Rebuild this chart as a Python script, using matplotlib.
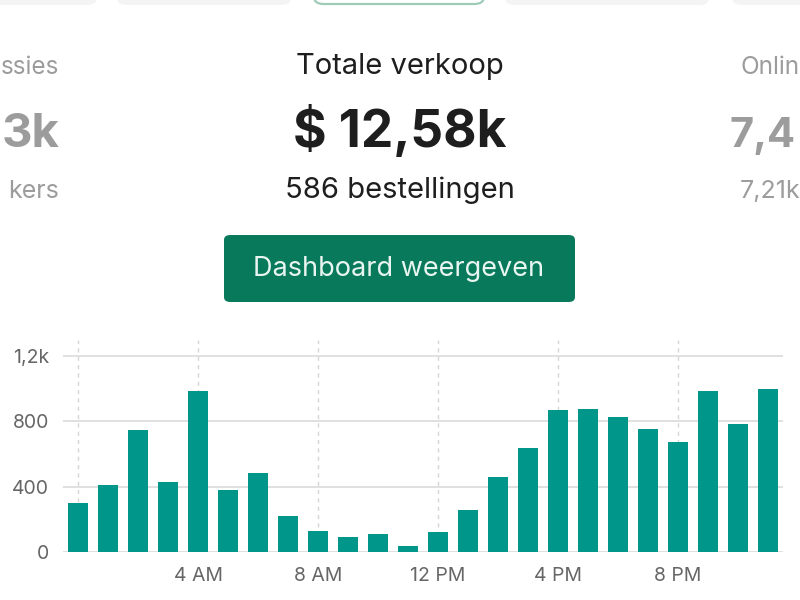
import matplotlib
matplotlib.use("Agg")
import matplotlib.pyplot as plt
from matplotlib.patches import FancyBboxPatch
from matplotlib.ticker import FixedLocator

plt.rcParams['font.family'] = ['Inter', 'DejaVu Sans']

# Hourly sales (USD) for the day
hours = list(range(24))
sales = [300, 410, 750, 428, 984, 377, 481, 220, 130, 90, 110, 39,
         120, 259, 462, 634, 872, 878, 825, 752, 674, 988, 784, 998]

x_tick_hours = [4, 8, 12, 16, 20]
x_tick_labels = ["4 AM", "8 AM", "12 PM", "4 PM", "8 PM"]
grid_hours = [0, 4, 8, 12, 16, 20]
y_ticks = [0, 400, 800, 1200]
y_tick_labels = ["0", "400", "800", "1,2k"]

title = "Totale verkoop"
total = "$ 12,58k"
orders = "586 bestellingen"
button_text = "Dashboard weergeven"

# Edges of the neighbouring cards that peek in from the sides
left_card = ["ssies", "3k", "kers"]
right_card = ["Onlin", "7,4", "7,21k"]

W, H = 800, 600
fig = plt.figure(figsize=(W / 100, H / 100), dpi=100)
fig.patch.set_facecolor("white")


def fx(px):
    return px / W


def fy(py):
    return 1 - py / H


# Faint tab pills along the top edge
tabs = [(-20, 97), (117, 291), (505, 709), (732, 830)]
for x0, x1 in tabs:
    fig.add_artist(FancyBboxPatch((fx(x0), fy(5)), fx(x1 - x0), 0.04,
                                  boxstyle="round,pad=0,rounding_size=0.012",
                                  transform=fig.transFigure, facecolor="#f4f4f4",
                                  edgecolor="none", zorder=1))
fig.add_artist(FancyBboxPatch((fx(314), fy(4)), fx(484 - 314), 0.04,
                              boxstyle="round,pad=0,rounding_size=0.012",
                              transform=fig.transFigure, facecolor="white",
                              edgecolor="#9fcbb9", linewidth=1.6, zorder=2))

# Central headline block
dark = "#1e1e1e"
sizes = [21, 37, 21]
baselines = [74, 147, 198]
weights = ["normal", "bold", "normal"]
for txt, fs, yb, wt in zip([title, total, orders], sizes, baselines, weights):
    fig.text(fx(400), fy(yb), txt, ha="center", va="baseline", fontsize=fs,
             fontweight=wt, color=dark)

# Neighbouring cards, partially visible
grey = "#9c9c9c"
left_sizes = [17.5, 34, 18]
for txt, fs, yb, wt in zip(left_card, left_sizes, baselines, weights):
    fig.text(fx(59), fy(yb), txt, ha="right", va="baseline", fontsize=fs,
             fontweight=wt, color=grey)

right_sizes = [17.5, 30, 18]
right_x = [740, 796, 740]
right_ha = ["left", "right", "left"]
for txt, fs, yb, wt, xp, ha in zip(right_card, right_sizes, baselines, weights,
                                   right_x, right_ha):
    fig.text(fx(xp), fy(yb), txt, ha=ha, va="baseline", fontsize=fs,
             fontweight=wt, color=grey)

# Button
fig.add_artist(FancyBboxPatch((fx(224), fy(302)), fx(575 - 224), (302 - 235) / H,
                              boxstyle="round,pad=0,rounding_size=0.008",
                              transform=fig.transFigure, facecolor="#087a5b",
                              edgecolor="none", zorder=2))
fig.text(fx(399), fy(269), button_text, ha="center", va="center", fontsize=19.5,
         color="#e9f5f0", zorder=3)

# Hourly bar chart
ax = fig.add_axes([fx(63), fy(552), fx(783 - 63), (552 - 340) / H])
ax.set_facecolor("white")
ax.bar(hours, sales, width=0.69, color="#00968a", zorder=3)
ax.set_xlim(-0.5, 23.5)
ax.set_ylim(0, 1298)

for h in grid_hours:
    ax.axvline(h, color="#d6d6d6", linestyle=(0, (3, 3)), linewidth=1, zorder=1)
for v in y_ticks:
    ax.axhline(v, color="#dadada", linewidth=1.2, zorder=2)

ax.yaxis.set_major_locator(FixedLocator(y_ticks))
ax.set_yticklabels(y_tick_labels)
ax.set_xticks(x_tick_hours)
ax.set_xticklabels(x_tick_labels)
ax.tick_params(axis="both", length=0, labelsize=14, labelcolor="#666666")
ax.tick_params(axis="y", pad=10)
ax.tick_params(axis="x", pad=11)
for s in ax.spines.values():
    s.set_visible(False)

fig.savefig("out.png", dpi=100, facecolor="white")
